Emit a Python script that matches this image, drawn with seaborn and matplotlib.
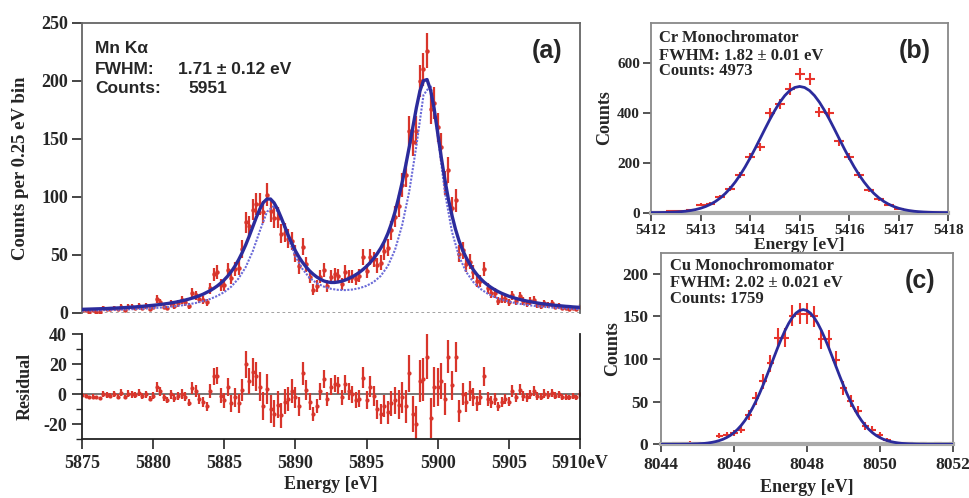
import numpy as np
import matplotlib
matplotlib.use("Agg")
import matplotlib.pyplot as plt
import seaborn as sns
from matplotlib.ticker import MultipleLocator

# ---------------- data ----------------
# (a) Mn K-alpha, 0.25 eV bins from 5875 to 5910 eV
mn_energy = np.linspace(5875, 5910, 141)
mn_counts = [2, 2, 1, 2, 1, 1, 4, 3, 3, 4,
             3, 5, 2, 5, 5, 4, 6, 4, 6, 3,
             5, 12, 9, 5, 4, 8, 6, 8, 11, 9,
             6, 17, 15, 12, 11, 9, 21, 33, 35, 24,
             24, 37, 30, 38, 39, 55, 78, 75, 89, 94,
             94, 87, 102, 88, 82, 82, 68, 69, 64, 62,
             51, 40, 57, 42, 31, 20, 23, 31, 37, 23,
             31, 33, 32, 25, 35, 31, 31, 29, 32, 48,
             36, 48, 46, 41, 43, 53, 56, 71, 83, 92,
             110, 119, 157, 147, 157, 200, 210, 226, 176, 181,
             160, 143, 112, 123, 90, 97, 51, 54, 42, 44,
             35, 27, 27, 38, 21, 17, 17, 10, 12, 12,
             9, 15, 10, 14, 10, 8, 10, 11, 7, 6,
             8, 7, 8, 5, 6, 4, 4, 3, 4, 3,
             5]
mn_fit = [2.9, 3.0, 3.1, 3.2, 3.3, 3.4, 3.5, 3.6, 3.8, 3.9,
          4.1, 4.2, 4.4, 4.6, 4.8, 5.0, 5.3, 5.5, 5.8, 6.1,
          6.4, 6.7, 7.1, 7.5, 7.9, 8.4, 8.9, 9.5, 10.2, 10.9,
          11.7, 12.6, 13.5, 14.7, 15.9, 17.4, 19.0, 20.9, 23.0, 25.5,
          28.4, 31.7, 35.6, 40.2, 45.5, 51.6, 58.4, 66.0, 74.1, 82.2,
          89.5, 95.2, 98.1, 98.1, 94.8, 89.2, 82.0, 74.3, 66.7, 59.7,
          53.4, 48.0, 43.4, 39.5, 36.0, 33.2, 30.8, 28.9, 27.4, 26.5,
          26.1, 26.1, 26.5, 27.2, 28.2, 29.5, 31.0, 32.8, 34.9, 37.3,
          40.0, 43.2, 46.8, 51.0, 55.8, 61.5, 68.5, 77.0, 87.0, 99.1,
          112.4, 127.1, 143.1, 160.2, 176.8, 191.4, 200.2, 201.2, 192.0, 176.0,
          155.0, 134.0, 115.0, 98.0, 84.0, 72.0, 62.0, 54.0, 47.5, 42.0,
          37.0, 33.0, 29.5, 26.5, 24.0, 21.8, 19.9, 18.2, 16.7, 15.4,
          14.2, 13.2, 12.3, 11.5, 10.8, 10.1, 9.5, 8.9, 8.4, 7.9,
          7.5, 7.1, 6.7, 6.4, 6.1, 5.8, 5.5, 5.3, 5.0, 4.8,
          4.6]
mn_resid = [-0.5, -1.0, -2.0, -1.5, -2.0, -2.5, 0.5, -0.5, -1.0, 0.0,
            -1.5, 1.0, -2.0, 0.5, 0.0, -0.5, 1.0, -1.0, 0.0, -3.0,
            -1.0, 5.0, 2.0, -2.0, -3.5, 0.0, -2.5, -1.0, 0.5, -1.5,
            -5.5, 4.0, 2.0, -3.0, -5.0, -8.0, 2.0, 12.0, 12.5, -1.0,
            -4.0, 5.0, -6.0, -2.0, -6.0, 3.0, 20.0, 9.0, 15.0, 12.0,
            5.0, -8.0, 3.5, -10.0, -13.0, -7.0, -14.0, -5.0, -3.0, 2.0,
            -2.0, -8.0, 14.0, 3.0, -5.0, -13.0, -8.0, 2.0, 10.0, -3.0,
            5.0, 7.0, 6.0, -2.0, 7.0, 2.0, 0.0, -4.0, -3.0, 11.0,
            -4.0, 5.0, -1.0, -10.0, -13.0, -8.0, -12.0, -6.0, -4.0, -7.0,
            -2.0, -8.0, 14.0, -13.0, -20.0, 9.0, 10.0, 25.0, -16.0, 5.0,
            5.0, 9.0, -3.0, 25.0, 6.0, 25.0, -11.0, 0.0, -5.0, 2.0,
            -2.0, -6.0, -2.0, 12.0, -3.0, -5.0, -3.0, -8.0, -5.0, -3.0,
            -5.0, 2.0, -2.0, 3.0, -1.0, -2.0, 0.0, 2.0, -1.0, -1.5,
            0.5, -0.5, 1.0, -1.0, 0.0, -2.0, -1.5, -2.0, -1.0, -2.0,
            0.5]
# natural (unbroadened) line shape, 0.5 eV steps
mn_nat_energy = np.linspace(5875, 5910, 71)
mn_natural = [1.8, 1.9, 2.0, 2.2, 2.4, 2.5, 2.8, 3.0, 3.3, 3.6,
              4.0, 4.4, 4.9, 5.6, 6.3, 7.3, 8.4, 9.9, 11.8, 14.4,
              17.8, 22.6, 29.5, 39.2, 53.0, 70.6, 87.1, 92.3, 81.8, 64.3,
              48.6, 37.6, 30.0, 25.5, 22.5, 20.6, 19.7, 19.5, 20.0, 21.2,
              23.2, 26.5, 31.8, 40.4, 54.3, 75.5, 104.7, 143.9, 187.8, 196.3,
              153.7, 104.2, 69.9, 48.5, 35.2, 26.5, 20.6, 16.5, 13.5, 11.3,
              9.6, 8.2, 7.2, 6.3, 5.6, 5.0, 4.5, 4.0, 3.7, 3.3,
              3.1]

# (b) Cr monochromator
cr_energy = np.linspace(5412, 5418, 31)
cr_counts = [2, 3, 5, 6, 10, 32, 35, 62, 96, 150,
             224, 261, 400, 434, 495, 555, 535, 404, 400, 285,
             224, 150, 92, 53, 32, 15, 8, 3, 2, 1,
             1]
cr_fit_energy = np.linspace(5412, 5418, 61)
cr_fit = [0.3, 0.4, 0.7, 1.1, 1.8, 2.7, 4.1, 6.0, 8.8, 12.6,
          17.7, 24.6, 33.5, 44.9, 59.2, 76.8, 97.8, 122.6, 151.2, 183.3,
          218.6, 256.2, 295.5, 335.0, 373.6, 409.6, 441.7, 468.3, 488.4, 500.8,
          505.0,
          500.8, 488.4, 468.3, 441.7, 409.6, 373.6, 335.0, 295.5, 256.2, 218.6,
          183.3, 151.2, 122.6, 97.8, 76.8, 59.2, 44.9, 33.5, 24.6, 17.7,
          12.6, 8.8, 6.0, 4.1, 2.7, 1.8, 1.1, 0.7, 0.4, 0.3]

# (c) Cu monochromator
cu_energy = np.linspace(8044, 8052, 41)
cu_counts = [0, 0, 1, 1, 2, 1, 0, 1,
             10, 11, 13, 17, 34, 54, 74, 95, 125, 125, 151, 153, 153, 150,
             123, 123, 99, 66, 51, 39, 21, 17, 11, 5, 2,
             1, 1, 0, 1, 0, 1, 0, 1]
cu_fit_energy = np.linspace(8044, 8052, 81)
cu_fit = [0.0, 0.0, 0.0, 0.0, 0.0, 0.0, 0.1, 0.1, 0.2, 0.4,
          0.5, 0.8, 1.1, 1.6, 2.3, 3.2, 4.4, 5.9, 7.9, 10.4,
          13.6, 17.5, 22.2, 27.8, 34.3, 41.8, 50.2, 59.4, 69.5, 80.1,
          91.2, 102.3, 113.3, 123.7, 133.3, 141.7, 148.6, 153.8, 156.9, 158.0,
          156.9, 153.8, 148.6, 141.7, 133.3, 123.7, 113.3, 102.3, 91.2, 80.1,
          69.5, 59.4, 50.2, 41.8, 34.3, 27.8, 22.2, 17.5, 13.6, 10.4,
          7.9, 5.9, 4.4, 3.2, 2.3, 1.6, 1.1, 0.8, 0.5, 0.4,
          0.2, 0.1, 0.1, 0.0, 0.0, 0.0, 0.0, 0.0, 0.0, 0.0,
          0.0]

residual_ticks = [5875, 5880, 5885, 5890, 5895, 5900, 5905, 5910]
residual_ticklabels = ["5875", "5880", "5885", "5890", "5895", "5900", "5905", "5910eV"]

# ---------------- style ----------------
sns.set_style("ticks")
plt.rcParams["font.family"] = ["Liberation Serif", "DejaVu Serif"]
plt.rcParams["font.weight"] = "bold"
plt.rcParams["axes.labelweight"] = "bold"

red = "#d8352b"
red2 = "#e8342c"
navy = "#2b2b9c"
light = "#6a6ad8"
box = "#666666"

W, H = 969, 498
fig = plt.figure(figsize=(W / 100, H / 100), dpi=100)


def px_axes(x0, y0, x1, y1):
    # axes rectangle from pixel corners (left, top, right, bottom)
    return fig.add_axes([x0 / W, 1 - y1 / H, (x1 - x0) / W, (y1 - y0) / H])


def px_text(x, y, s, **kw):
    fig.text(x / W, 1 - y / H, s, **kw)


ax_a = px_axes(82, 23, 580, 312.7)
ax_r = px_axes(82, 334.3, 580, 439.3)
ax_b = px_axes(651, 22.7, 948.3, 212.7)
ax_c = px_axes(661, 253.3, 952.7, 444.3)

# ---------------- (a) spectrum ----------------
mn_err = np.sqrt(np.maximum(mn_counts, 1))
ax_a.errorbar(mn_energy, mn_counts, yerr=mn_err, fmt="o", ms=2.2, color=red,
              ecolor=red, elinewidth=1.6, capsize=0, zorder=2)
sns.lineplot(x=mn_nat_energy, y=mn_natural, ax=ax_a, color=light, lw=1.5,
             linestyle=(0, (1, 0.7)), zorder=3)
sns.lineplot(x=mn_energy, y=mn_fit, ax=ax_a, color=navy, lw=2.4, zorder=4)
ax_a.axhline(0, color="#999999", lw=2, linestyle=(0, (1, 1)), zorder=1)
ax_a.set_xlim(5875, 5910)
ax_a.set_ylim(0, 250)
ax_a.yaxis.set_major_locator(MultipleLocator(50))
ax_a.tick_params(axis="x", bottom=False, labelbottom=False)
ax_a.tick_params(axis="y", length=7, width=1.2, labelsize=13, pad=3)
for side in ["top", "right", "left"]:
    ax_a.spines[side].set_color(box)
    ax_a.spines[side].set_linewidth(1.3)
ax_a.spines["bottom"].set_visible(False)
ax_a.set_ylabel("Counts per 0.25 eV bin", fontsize=13.5)
ax_a.yaxis.set_label_coords(-0.106, 0.5)

px_text(95, 53, "Mn K\u03b1", family=["Liberation Sans"], fontsize=12.5, weight="bold")
px_text(95, 74, "FWHM:", family=["Liberation Sans"], fontsize=12.5, weight="bold")
px_text(178, 74, "1.71 \u00b1 0.12 eV", family=["Liberation Sans"], fontsize=12.5, weight="bold")
px_text(95, 93, "Counts:", family=["Liberation Sans"], fontsize=12.5, weight="bold")
px_text(188, 93, "5951", family=["Liberation Sans"], fontsize=12.5, weight="bold")
px_text(547, 51, "(a)", family=["Liberation Sans"], fontsize=18, weight="bold",
        ha="center", va="center")

# ---------------- residual ----------------
ax_r.axhline(0, color="#777777", lw=1.4, zorder=1)
ax_r.errorbar(mn_energy, mn_resid, yerr=mn_err, fmt="o", ms=2.0, color=red,
              ecolor=red, elinewidth=1.6, capsize=0, zorder=2)
ax_r.set_xlim(5875, 5910)
ax_r.set_ylim(-30, 40)
ax_r.set_yticks([-20, 0, 20, 40])
ax_r.set_yticklabels(["-20", "0", "20", "40"])
ax_r.yaxis.set_minor_locator(MultipleLocator(10))
ax_r.set_xticks(residual_ticks)
ax_r.set_xticklabels(residual_ticklabels)
ax_r.tick_params(axis="both", which="major", length=7, width=1.2, labelsize=13, pad=4)
ax_r.tick_params(axis="y", which="minor", length=4, width=1.0)
ax_r.spines["top"].set_visible(False)
for side in ["left", "right", "bottom"]:
    ax_r.spines[side].set_color("#222222")
    ax_r.spines[side].set_linewidth(1.3)
ax_r.set_ylabel("Residual", fontsize=13)
ax_r.yaxis.set_label_coords(-0.098, 0.5)
ax_r.set_xlabel("Energy [eV]", fontsize=13)
ax_r.xaxis.set_label_coords(0.5, -0.35)

# ---------------- (b) Cr ----------------
ax_b.errorbar(cr_energy, cr_counts, xerr=0.1, yerr=np.sqrt(cr_counts), fmt="none",
              ecolor=red2, elinewidth=1.5, capsize=0, zorder=2)
sns.lineplot(x=cr_fit_energy, y=cr_fit, ax=ax_b, color=navy, lw=2.0, zorder=3)
ax_b.set_xlim(5412, 5418)
ax_b.set_ylim(0, 760)
ax_b.set_yticks([0, 200, 400, 600])
ax_b.set_xticks(range(5412, 5419))
ax_b.tick_params(axis="both", length=6, width=1.1, labelsize=11, pad=2)
for side in ["top", "right", "left"]:
    ax_b.spines[side].set_color("#888888")
    ax_b.spines[side].set_linewidth(1.3)
ax_b.spines["bottom"].set_color("#aaaaaa")
ax_b.spines["bottom"].set_linewidth(3)
ax_b.set_ylabel("Counts", fontsize=13)
ax_b.yaxis.set_label_coords(-0.128, 0.5)
ax_b.set_xlabel("Energy [eV]", fontsize=12.5)
ax_b.xaxis.set_label_coords(0.5, -0.13)

px_text(659, 42, "Cr Monochromator", fontsize=12, weight="bold")
px_text(659, 60, "FWHM: 1.82 \u00b1 0.01 eV", fontsize=12, weight="bold")
px_text(659, 75, "Counts: 4973", fontsize=12, weight="bold")
px_text(915, 51, "(b)", family=["Liberation Sans"], fontsize=18, weight="bold",
        ha="center", va="center")

# ---------------- (c) Cu ----------------
ax_c.errorbar(cu_energy, cu_counts, xerr=0.1, yerr=np.sqrt(cu_counts), fmt="none",
              ecolor=red2, elinewidth=1.5, capsize=0, zorder=2)
sns.lineplot(x=cu_fit_energy, y=cu_fit, ax=ax_c, color=navy, lw=2.0, zorder=3)
ax_c.set_xlim(8044, 8052)
ax_c.set_ylim(0, 224)
ax_c.set_yticks([0, 50, 100, 150, 200])
ax_c.set_xticks([8044, 8046, 8048, 8050, 8052])
ax_c.tick_params(axis="both", length=6, width=1.1, labelsize=12.5, pad=3)
for side in ["top", "right", "left"]:
    ax_c.spines[side].set_color("#888888")
    ax_c.spines[side].set_linewidth(1.3)
ax_c.spines["bottom"].set_color("#aaaaaa")
ax_c.spines["bottom"].set_linewidth(3)
ax_c.set_ylabel("Counts", fontsize=13)
ax_c.yaxis.set_label_coords(-0.137, 0.5)
ax_c.set_xlabel("Energy [eV]", fontsize=13)
ax_c.xaxis.set_label_coords(0.5, -0.182)

px_text(670, 270, "Cu Monochromomator", fontsize=12, weight="bold")
px_text(670, 287, "FWHM: 2.02 \u00b1 0.021 eV", fontsize=12, weight="bold")
px_text(670, 303, "Counts: 1759", fontsize=12, weight="bold")
px_text(920, 281, "(c)", family=["Liberation Sans"], fontsize=18, weight="bold",
        ha="center", va="center")

fig.savefig("out.png", dpi=100, facecolor="white")
